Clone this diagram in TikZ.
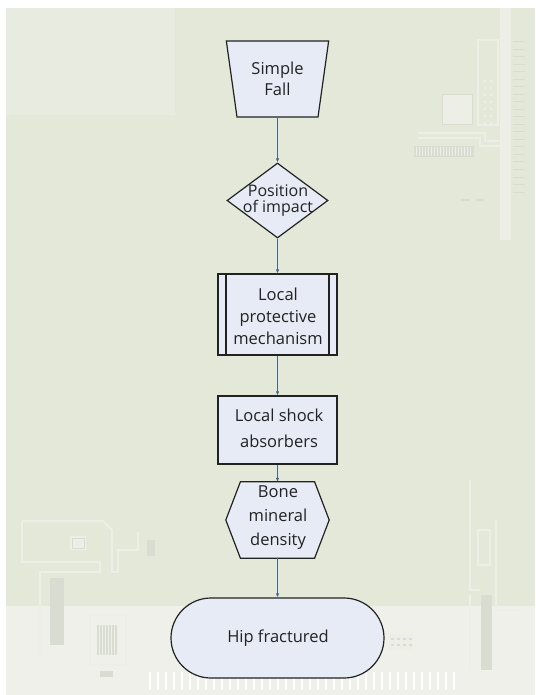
\documentclass[tikz,border=0pt]{standalone}
\usepackage{fontspec}
\setmainfont{Open Sans}
\usetikzlibrary{shapes.geometric,shapes.misc,arrows.meta}
\definecolor{bgmain}{HTML}{E4E8D9}
\definecolor{bgtop}{HTML}{E8EBE0}
\definecolor{bgbottom}{HTML}{EFF0E9}
\definecolor{decolight}{HTML}{EDEFE6}
\definecolor{decodark}{HTML}{D9DCD1}
\definecolor{boxfill}{HTML}{E7EBF6}
\definecolor{edge}{HTML}{222222}
\definecolor{link}{HTML}{46648C}
\definecolor{txt}{HTML}{222222}
\begin{document}
\begin{tikzpicture}[x=1pt,y=-1pt,
  box/.style={draw=edge, line width=1.2pt, fill=boxfill, inner sep=0pt},
  label text/.style={text=txt, align=center, inner sep=0pt, font=\fontsize{16.5}{23}\selectfont},
  flow/.style={draw=link, line width=0.8pt, -{Latex[length=4pt,width=3.5pt]}},
  lt/.style={draw=decolight, line width=1.6pt},
  dk/.style={draw=decodark, line width=1pt}]
\useasboundingbox (0,0) rectangle (535,695);
% background
\fill[white] (0,0) rectangle (535,695);
\fill[bgmain] (6,8) rectangle (535,606);
\fill[bgtop] (6,8) rectangle (175,115);
\fill[bgbottom] (6,606) rectangle (535,695);
% faint circuit decorations, top right
\fill[decolight] (500,8) rectangle (511,240);
\foreach \yy in {42,49.5,...,192} {\draw[dk] (513,\yy) -- (525,\yy);}
\draw[lt] (478,40) rectangle (498,125);
\foreach \yy in {80,87,...,122} {\fill[decolight] (484,\yy) rectangle (486,\yy+2); \fill[decolight] (490,\yy) rectangle (492,\yy+2);}
\fill[decolight] (442,95) rectangle (472,125);
\draw[dk] (442,95) rectangle (472,125);
\draw[lt] (418,133) -- (485,133) -- (485,141) -- (511,141);
\draw[lt] (418,138) -- (480,138) -- (480,146) -- (511,146);
\fill[decodark] (414,146) rectangle (474,157);
\foreach \xx in {416,419,...,472} {\draw[decolight, line width=0.6pt] (\xx,147) -- (\xx,156);}
\draw[decodark, line width=2pt] (461,200) -- (470,200) (476,200) -- (484,200);
% bottom left
\draw[lt] (22,521) -- (103,521) -- (112,530) -- (112,572) -- (118,572) -- (118,550) -- (138,550) -- (138,532);
\draw[lt] (22,521) -- (22,562) -- (100,562) -- (100,572) -- (40,572) -- (40,660);
\fill[decolight] (70,536) rectangle (86,550);
\draw[dk] (72,538) rectangle (84,548);
\fill[decodark] (147,540) rectangle (155,556);
\fill[decodark] (50,578) rectangle (64,645);
\foreach \xx in {98,101,...,116} {\draw[decodark, line width=1.2pt] (\xx,625) -- (\xx,655);}
\draw[lt] (90,615) rectangle (126,665);
\fill[decodark] (100,671) rectangle (113,677);
% bottom right
\draw[lt] (470,480) -- (470,590) -- (480,590);
\draw[lt] (478,530) rectangle (490,565);
\draw[lt] (496,520) -- (496,610) -- (522,610);
\fill[decodark] (481,595) rectangle (492,670);
\draw[lt] (470,595) -- (470,670);
\fill[decolight] (388,634) rectangle (413,650);
\foreach \xx in {392,398,404,410} {\fill[decodark] (\xx-1.5,638) rectangle (\xx+1.5,640); \fill[decodark] (\xx-1.5,644) rectangle (\xx+1.5,646);}
\foreach \xx in {150,158,...,455} {\draw[white, line width=1.4pt] (\xx,672) -- (\xx,690);}
% flowchart nodes
\node[box, trapezium, shape border rotate=180, trapezium stretches=true,
      trapezium left angle=78.5, trapezium right angle=78.5,
      minimum width=103pt, minimum height=76pt, text=txt, align=center,
      font=\fontsize{16.5}{21}\selectfont] (fall) at (277.5,79) {Simple\\Fall};
\node[box, diamond, minimum width=101pt, minimum height=75pt] (pos) at (277.5,200.5) {};
\node[label text, font=\fontsize{16}{16}\selectfont] (post) at (278,200.5) {Position\\of impact};
\node[box, rectangle, minimum width=119pt, minimum height=81pt,
      path picture={\draw[edge, line width=1.2pt]
        ([xshift=8pt]path picture bounding box.north west) -- ([xshift=8pt]path picture bounding box.south west)
        ([xshift=-8pt]path picture bounding box.north east) -- ([xshift=-8pt]path picture bounding box.south east);}]
      (prot) at (277.5,314.5) {};
\node[label text, font=\fontsize{16.5}{22}\selectfont] (prott) at (278,316) {Local\\protective\\mechanism};
\node[box, rectangle, minimum width=119pt, minimum height=68pt] (shock) at (277.5,430) {};
\node[label text, font=\fontsize{16.5}{26}\selectfont] (shockt) at (279,428) {Local shock\\absorbers};
\node[rectangle, inner sep=0pt, minimum width=103pt, minimum height=76pt] (bmd) at (277.5,520) {};
\filldraw[box] (bmd.west) -- ([xshift=14.6pt]bmd.north west) -- ([xshift=-14.6pt]bmd.north east)
  -- (bmd.east) -- ([xshift=-14.6pt]bmd.south east) -- ([xshift=14.6pt]bmd.south west) -- cycle;
\node[label text, font=\fontsize{16.5}{24}\selectfont] (bmdt) at (278,518) {Bone\\mineral\\density};
\node[box, rounded rectangle, minimum width=213pt, minimum height=80pt] (hip) at (277.5,638) {};
\node[label text] (hipt) at (278,638) {Hip fractured};
% connectors
\draw[flow] (fall) -- (pos);
\draw[flow] (pos) -- (prot);
\draw[flow] (prot) -- (shock);
\draw[flow] (shock) -- (bmd);
\draw[flow] (bmd) -- (hip);
\end{tikzpicture}
\end{document}
